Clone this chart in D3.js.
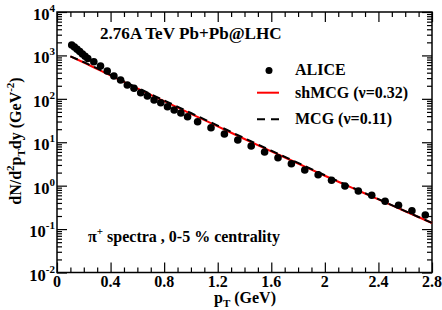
<!DOCTYPE html>
<html><head><meta charset="utf-8">
<script src="https://cdn.jsdelivr.net/npm/d3@7"></script>
<style>body{margin:0;background:#fff}svg{display:block}
svg text{font-family:"Liberation Serif","Times New Roman",serif;font-weight:700}</style>
</head><body><svg id="c" width="442" height="310"></svg>
<script>
// ALICE pi+ spectra, 0-5% centrality
const alicePt = [0.11,0.13,0.15,0.17,0.19,0.21,0.23,0.275,0.325,0.375,0.425,0.475,0.525,0.575,0.625,0.675,0.725,0.775,0.825,0.875,0.925,0.975,1.05,1.15,1.25,1.35,1.45,1.55,1.65,1.75,1.85,1.95,2.05,2.15,2.25,2.35,2.45,2.55,2.65,2.75];
const aliceY  = [1738,1560,1381,1223,1077,953,849,716,570,437,336,272,208,175,138,116,94,81.5,65.9,55.3,47.1,38.7,29.7,21.6,15.5,11.3,8.19,5.96,4.40,3.21,2.30,1.79,1.33,0.98,0.754,0.600,0.437,0.353,0.265,0.211];
// model curves
const modelPt = [0.1,0.2,0.4,0.6,0.8,1.0,1.2,1.4,1.6,1.8,2.0,2.2,2.4,2.6,2.8];
const shMCG   = [950,686,344,173,88.2,45.2,23.2,11.9,6.18,3.24,1.69,0.902,0.483,0.258,0.138];
const MCG     = [950,700,356,180,92.0,47.2,24.2,12.4,6.40,3.34,1.74,0.925,0.490,0.260,0.138];
const xMajor = [0,0.4,0.8,1.2,1.6,2,2.4,2.8];
const xLabels = ["0","0.4","0.8","1.2","1.6","2","2.4","2.8"];
const yExp = [-2,-1,0,1,2,3,4];
const legendLabels = ["ALICE","shMCG (\u03bd=0.32)","MCG (\u03bd=0.11)"];
const titleText = "2.76A TeV Pb+Pb@LHC";

const svg = d3.select("#c");
const L=57,R=432,T=12,B=272.5;
const x = d3.scaleLinear().domain([0,2.8]).range([L,R]);
const y = d3.scaleLog().domain([1e-2,1e4]).range([B,T]);

const xMinor = d3.range(0,2.81,0.1).filter(v=>Math.abs(v/0.4-Math.round(v/0.4))>1e-6);
const yMajor = yExp.map(e=>Math.pow(10,e));
const yMinor = [];
for(let e=-2;e<4;e++) for(let k=2;k<=9;k++) yMinor.push(k*Math.pow(10,e));

function ax(gen, tr){ const g=svg.append("g").attr("transform",tr).call(gen);
  g.select(".domain").remove(); g.selectAll("line").attr("stroke","#000").attr("stroke-width",1.2); g.selectAll("text").remove(); return g;}
ax(d3.axisBottom(x).tickValues(xMajor).tickSize(-10),`translate(0,${B})`);
ax(d3.axisBottom(x).tickValues(xMinor).tickSize(-5),`translate(0,${B})`);
ax(d3.axisTop(x).tickValues(xMajor).tickSize(-10),`translate(0,${T})`);
ax(d3.axisTop(x).tickValues(xMinor).tickSize(-5),`translate(0,${T})`);
ax(d3.axisLeft(y).tickValues(yMajor).tickSize(-10),`translate(${L},0)`);
ax(d3.axisLeft(y).tickValues(yMinor).tickSize(-5),`translate(${L},0)`);
ax(d3.axisRight(y).tickValues(yMajor).tickSize(-10),`translate(${R},0)`);
ax(d3.axisRight(y).tickValues(yMinor).tickSize(-5),`translate(${R},0)`);

svg.append("rect").attr("x",L).attr("y",T).attr("width",R-L).attr("height",B-T)
  .attr("fill","none").attr("stroke","#000").attr("stroke-width",1.5);

// x labels
svg.append("g").selectAll("text").data(xMajor).join("text")
  .attr("x",d=>x(d)).attr("y",287).attr("text-anchor","middle").attr("font-size",16)
  .text((d,i)=>xLabels[i]);
// y labels
const yl = svg.append("g").selectAll("text").data(yExp).join("text")
  .attr("x",55).attr("y",d=>y(Math.pow(10,d))+8).attr("text-anchor","end").attr("font-size",16.5);
yl.append("tspan").text("10");
yl.append("tspan").attr("font-size",11).attr("dy",-8).text(d=>d<0?"-"+(-d):String(d));

// curves
const line = d3.line().x((d,i)=>x(modelPt[i])).y(d=>y(d)).curve(d3.curveMonotoneX);
svg.append("path").attr("d",line(shMCG)).attr("fill","none").attr("stroke","#ff0000").attr("stroke-width",2);
svg.append("path").attr("d",line(MCG)).attr("fill","none").attr("stroke","#000").attr("stroke-width",2).attr("stroke-dasharray","8,5");

// data
svg.append("g").selectAll("circle").data(aliceY).join("circle")
  .attr("cx",(d,i)=>x(alicePt[i])).attr("cy",d=>y(d)).attr("r",3.8).attr("fill","#000");

// title
svg.append("text").attr("x",100).attr("y",38.5).attr("font-size",17.1).text(titleText);

// legend
svg.append("circle").attr("cx",269).attr("cy",70.5).attr("r",3.5).attr("fill","#000");
svg.append("line").attr("x1",257).attr("x2",279).attr("y1",92.7).attr("y2",92.7).attr("stroke","#ff0000").attr("stroke-width",2);
svg.append("line").attr("x1",257).attr("x2",279).attr("y1",119.3).attr("y2",119.3).attr("stroke","#000").attr("stroke-width",2).attr("stroke-dasharray","8,6");
svg.append("g").selectAll("text").data(legendLabels).join("text")
  .attr("x",295).attr("y",(d,i)=>[75,97.5,124][i]).attr("font-size",16).text(d=>d);

// annotation
const an = svg.append("text").attr("x",88).attr("y",241.5).attr("font-size",16);
an.append("tspan").text("\u03c0");
an.append("tspan").attr("font-size",11).attr("dy",-7).text("+");
an.append("tspan").attr("dy",7).text(" spectra , 0-5 % centrality");

// axis titles
const xt = svg.append("text").attr("x",245).attr("y",303).attr("text-anchor","middle").attr("font-size",16);
xt.append("tspan").text("p");
xt.append("tspan").attr("font-size",11).attr("dy",4).text("T");
xt.append("tspan").attr("dy",-4).text(" (GeV)");

const yt = svg.append("text").attr("transform","translate(21,141) rotate(-90)").attr("text-anchor","middle").attr("font-size",16);
yt.append("tspan").text("dN/d");
yt.append("tspan").attr("font-size",11).attr("dy",-7).text("2");
yt.append("tspan").attr("dy",7).text("p");
yt.append("tspan").attr("font-size",11).attr("dy",4).text("T");
yt.append("tspan").attr("dy",-4).text("dy (GeV");
yt.append("tspan").attr("font-size",11).attr("dy",-7).text("-2");
yt.append("tspan").attr("dy",7).text(")");
</script></body></html>
